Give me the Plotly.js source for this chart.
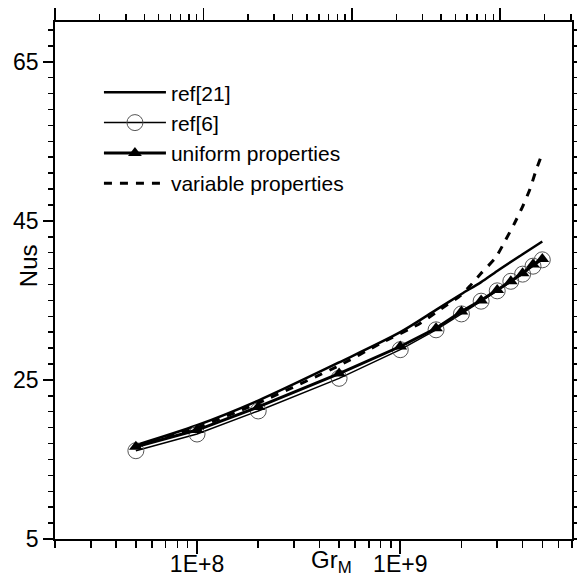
<!DOCTYPE html>
<html>
<head>
<meta charset="utf-8">
<script src="https://cdn.plot.ly/plotly-3.0.1.min.js"></script>
<style>html,body{margin:0;padding:0;background:#fff;}#chart{width:577px;height:579px;}</style>
</head>
<body>
<div id="chart"></div>
<script>
// ---- data ----
const seriesNames = ['ref[21]', 'ref[6]', 'uniform properties', 'variable properties'];

const ref21Gr = [5e7, 1e8, 2e8, 5e8, 1e9, 1.5e9, 2e9, 2.5e9, 3e9, 4e9, 5e9];
const ref21Nu = [16.8, 19.3, 22.4, 27.2, 31.0, 33.8, 35.8, 37.3, 38.7, 40.8, 42.4];

const pointGr   = [5e7, 1e8, 2e8, 5e8, 1e9, 1.5e9, 2e9, 2.5e9, 3e9, 3.5e9, 4e9, 4.5e9, 5e9];
const ref6Nu    = [16.1, 18.2, 21.1, 25.2, 28.8, 31.3, 33.3, 34.9, 36.2, 37.4, 38.3, 39.3, 40.1];
const uniformNu = [16.6, 18.7, 21.6, 25.8, 29.2, 31.5, 33.6, 35.0, 36.3, 37.4, 38.4, 39.5, 40.2];

const variableGr = [5e7, 1e8, 2e8, 5e8, 8e8, 1.25e9, 1.5e9, 2e9, 2.2e9, 2.5e9, 2.95e9, 3.3e9, 3.65e9, 4.0e9, 4.35e9, 4.65e9, 5e9];
const variableNu = [16.7, 19.0, 22.1, 26.8, 29.6, 32.1, 33.5, 35.7, 36.8, 38.4, 40.4, 42.6, 44.7, 46.8, 49.0, 51.3, 53.5];

const xMajorVals = [1e8, 1e9];
const xMajorText = ['1E+8', '1E+9'];
const xMinorVals = [2e7,3e7,4e7,5e7,6e7,7e7,8e7,9e7,2e8,3e8,4e8,5e8,6e8,7e8,8e8,9e8,2e9,3e9,4e9,5e9,6e9,7e9];
const yMajorVals = [5, 25, 45, 65];
const topMajorVals = [1, 10, 100, 1000];
const topMinorVals = [2,3,4,5,6,7,8,9,20,30,40,50,60,70,80,90,200,300,400,500,600,700,800,900,2000,3000];

const FONT = 'Liberation Sans, Arial, sans-serif';

const traces = [
  {
    name: seriesNames[0], x: ref21Gr, y: ref21Nu, type: 'scatter', mode: 'lines',
    line: {color: '#000', width: 2.5, shape: 'spline', smoothing: 0.8},
    legendgroup: 'a'
  },
  {
    name: seriesNames[1], x: pointGr, y: ref6Nu, type: 'scatter', mode: 'lines+markers',
    line: {color: '#000', width: 1.5},
    marker: {symbol: 'circle-open', size: 16, color: '#555', line: {width: 1, color: '#555'}},
    legendgroup: 'b'
  },
  {
    name: seriesNames[2], x: pointGr, y: uniformNu, type: 'scatter', mode: 'lines+markers',
    line: {color: '#000', width: 3},
    marker: {symbol: 'triangle-up', size: 12, color: '#000'},
    legendgroup: 'c'
  },
  {
    name: seriesNames[3], x: variableGr, y: variableNu, type: 'scatter', mode: 'lines',
    line: {color: '#000', width: 3, dash: '8px,8px', shape: 'spline', smoothing: 0.6},
    legendgroup: 'd'
  },
  { x: [], y: [], xaxis: 'x2', yaxis: 'y2', type: 'scatter', mode: 'lines', showlegend: false, hoverinfo: 'skip' }
];

const layout = {
  width: 577, height: 579,
  margin: {l: 55, r: 5, t: 22, b: 40},
  paper_bgcolor: '#fff', plot_bgcolor: '#fff',
  font: {family: FONT, color: '#000', size: 22},
  showlegend: true,
  legend: {
    x: 0.085, y: 0.903, xanchor: 'left', yanchor: 'top',
    bgcolor: 'rgba(0,0,0,0)', font: {family: FONT, size: 21, color: '#000'},
    itemwidth: 62, tracegroupgap: 4, traceorder: 'normal'
  },
  xaxis: {
    type: 'log', range: [Math.log10(2e7), Math.log10(7e9)],
    showline: true, linecolor: '#000', linewidth: 1.8,
    showgrid: false, zeroline: false,
    tickmode: 'array', tickvals: xMajorVals, ticktext: xMajorText,
    ticks: 'outside', ticklen: 13, tickwidth: 1.6, tickcolor: '#000',
    ticklabelstandoff: -9,
    tickfont: {family: FONT, size: 23, color: '#000'},
    minor: {tickmode: 'array', tickvals: xMinorVals, ticks: 'outside', ticklen: 7, tickwidth: 1.5, tickcolor: '#000', showgrid: false}
  },
  yaxis: {
    range: [5, 70],
    showline: true, linecolor: '#000', linewidth: 1.8,
    showgrid: false, zeroline: false,
    tickmode: 'array', tickvals: yMajorVals,
    ticks: 'outside', ticklen: 10, tickwidth: 1.6, tickcolor: '#000',
    tickfont: {family: FONT, size: 23, color: '#000'},
    minor: {dtick: 2, tick0: 5, ticks: 'outside', ticklen: 5, tickwidth: 1.5, tickcolor: '#000', showgrid: false}
  },
  xaxis2: {
    type: 'log', range: [0, 3.485], overlaying: 'x', side: 'top', anchor: 'y2',
    showline: true, linecolor: '#000', linewidth: 1.8,
    showgrid: false, zeroline: false, showticklabels: false,
    tickmode: 'array', tickvals: topMajorVals,
    ticks: 'outside', ticklen: 12, tickwidth: 1.6, tickcolor: '#000',
    minor: {tickmode: 'array', tickvals: topMinorVals, ticks: 'outside', ticklen: 6, tickwidth: 1.5, tickcolor: '#000', showgrid: false}
  },
  yaxis2: {
    range: [5, 70], overlaying: 'y', side: 'right', anchor: 'x2',
    showline: true, linecolor: '#000', linewidth: 1.8,
    showgrid: false, zeroline: false, showticklabels: false,
    tickmode: 'linear', tick0: 5, dtick: 2,
    ticks: 'outside', ticklen: 6, tickwidth: 1.5, tickcolor: '#000'
  },
  annotations: [
    {text: 'Gr<sub>M</sub>', xref: 'paper', yref: 'paper', x: 0.535, y: -0.043,
     xanchor: 'center', yanchor: 'middle', showarrow: false, font: {family: FONT, size: 24, color: '#000'}},
    {text: 'Nus', xref: 'paper', yref: 'paper', x: -0.052, y: 0.528, textangle: -90,
     xanchor: 'center', yanchor: 'middle', showarrow: false, font: {family: FONT, size: 24, color: '#000'}}
  ]
};

Plotly.newPlot('chart', traces, layout, {displayModeBar: false, staticPlot: true});
</script>
</body>
</html>
